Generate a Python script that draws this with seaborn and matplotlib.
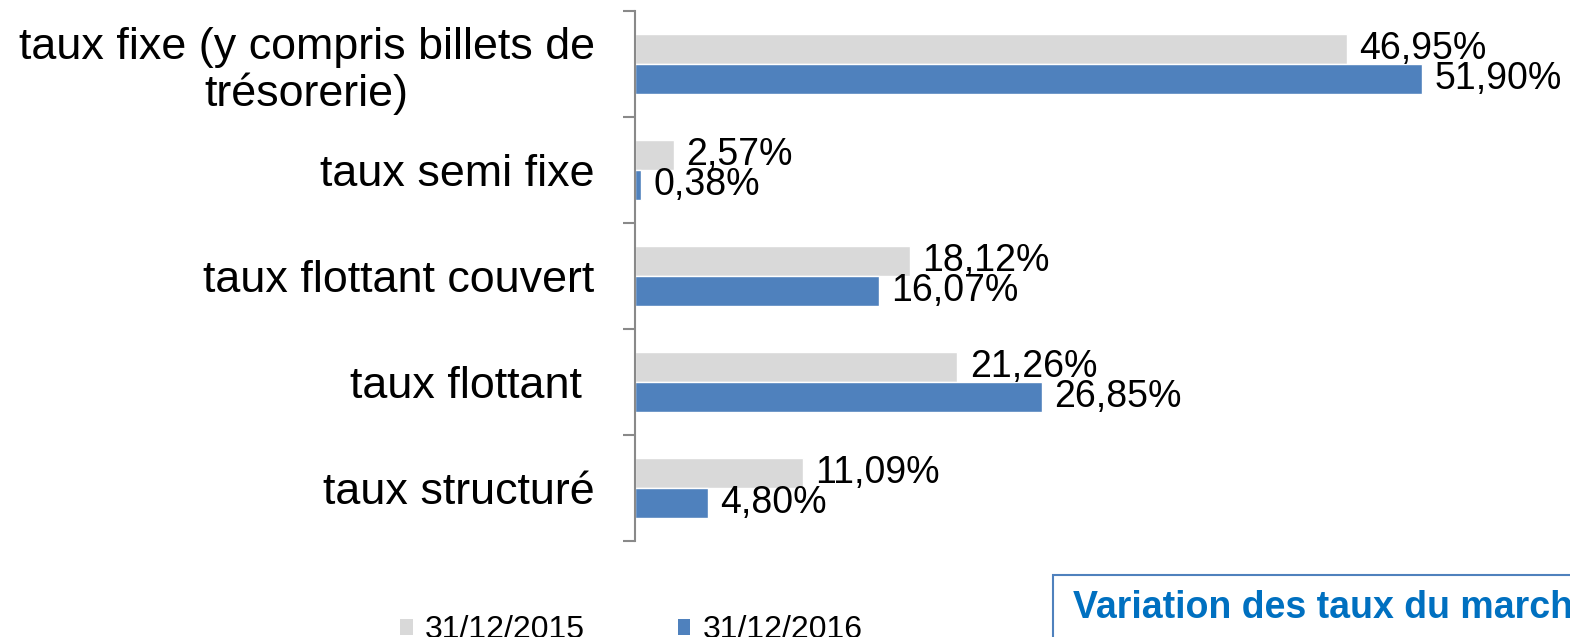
import matplotlib
matplotlib.use("Agg")
import matplotlib.pyplot as plt
from matplotlib.patches import Rectangle, Patch
import seaborn as sns
import pandas as pd

categories = ["taux fixe (y compris billets de\ntrésorerie)", "taux semi fixe",
              "taux flottant couvert", "taux flottant ", "taux structuré"]
series_names = ["31/12/2015", "31/12/2016"]
values_2015 = [46.95, 2.57, 18.12, 21.26, 11.09]
values_2016 = [51.90, 0.38, 16.07, 26.85, 4.80]
colors = ["#D9D9D9", "#4F81BD"]
box_text = "Variation des taux du marché"

df = pd.DataFrame({
    "cat": categories * 2,
    "serie": [series_names[0]] * 5 + [series_names[1]] * 5,
    "val": values_2015 + values_2016,
})

sns.set_style("white")
plt.rcParams["font.family"] = ["Liberation Sans", "DejaVu Sans"]
plt.rcParams["text.color"] = "black"

W, H = 1570, 637
fig = plt.figure(figsize=(W / 100, H / 100), dpi=100)
ax_left, ax_right = 635, 1500
ax = fig.add_axes([ax_left / W, (H - 541) / H, (ax_right - ax_left) / W, (541 - 11) / H])

sns.barplot(data=df, y="cat", x="val", hue="serie", palette=colors, orient="h",
            width=0.566, ax=ax, legend=False, saturation=1)

px_per = 15.16
ax.set_xlim(0, (ax_right - ax_left) / px_per)
ax.set_ylim(4.5, -0.5)

for cont, vals in zip(ax.containers, [values_2015, values_2016]):
    ax.bar_label(cont, labels=[f"{v:.2f}".replace(".", ",") + "%" for v in vals],
                 padding=9, fontsize=27, color="black")

for s in ["top", "right", "bottom"]:
    ax.spines[s].set_visible(False)
ax.spines["left"].set_color("#898989")
ax.spines["left"].set_linewidth(1.5)
ax.set_xticks([])
ax.set_xlabel("")
ax.set_ylabel("")
ax.set_yticks(range(5))
ax.set_yticklabels(categories, fontsize=32.3, linespacing=1.15, color="black")
for t in ax.get_yticklabels():
    t.set_multialignment("center")
ax.tick_params(axis="y", which="major", left=True, length=0, pad=29)
ax.set_yticks([i - 0.5 for i in range(6)], minor=True)
ax.tick_params(axis="y", which="minor", left=True, length=9, width=1.5,
               color="#898989", direction="out")

# legend
handles = [Patch(facecolor=c, edgecolor="none") for c in colors]
fig.legend(handles, series_names, loc="center left", bbox_to_anchor=(400 / W, 1 - 630 / H),
           ncol=2, frameon=False, fontsize=23, handlelength=0.4, handleheight=0.4,
           handletextpad=0.38, columnspacing=2.9, borderpad=0, borderaxespad=0,
           labelcolor="black")

# box bottom right
fig.patches.append(Rectangle((1053 / W, (H - 700) / H), 600 / W, 125 / H,
                             transform=fig.transFigure, facecolor="white",
                             edgecolor="#4F81BD", linewidth=1.5, clip_on=False))
fig.text(1073 / W, 1 - 608 / H, box_text, fontsize=27, fontweight="bold",
         color="#0070C0", va="center", ha="left")

fig.savefig("out.png", dpi=100)
